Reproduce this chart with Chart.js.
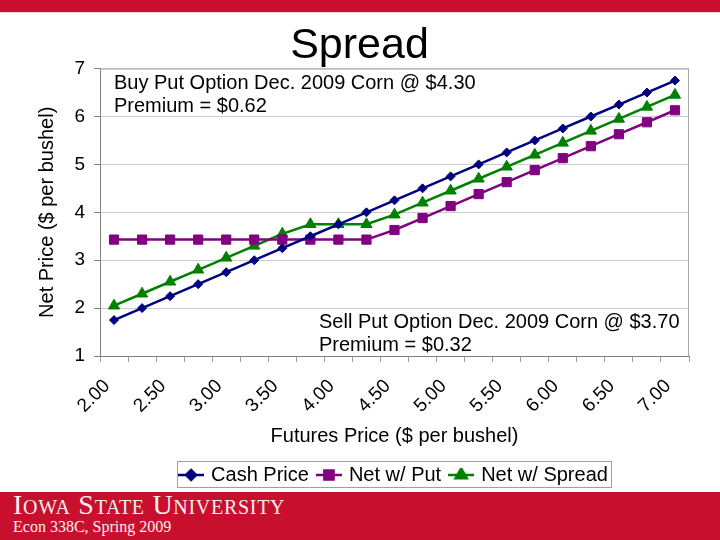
<!DOCTYPE html>
<html>
<head>
<meta charset="utf-8">
<title>Spread</title>
<script src="https://cdn.jsdelivr.net/npm/chart.js@4.4.1/dist/chart.umd.min.js"></script>
<style>
  html, body { margin: 0; padding: 0; background: #fff; }
  #slide { position: relative; width: 720px; height: 540px; overflow: hidden; }
  .top-band { position: absolute; left: 0; top: 0; width: 720px; height: 12px; background: #c8102e; border-bottom: 1px solid #f3d3d7; }
  .foot { position: absolute; left: 0; top: 492px; width: 720px; height: 48px; background: #c8102e; color: #fbeef0; font-family: "Liberation Serif", "DejaVu Serif", serif; }
  .foot .isu { position: absolute; left: 13px; top: -1px; font-size: 28px; line-height: 1; font-variant: small-caps; letter-spacing: 0.7px; white-space: nowrap; }
  .foot .course { position: absolute; left: 13px; top: 27px; font-size: 16px; line-height: 1; white-space: nowrap; }
  #chart { position: absolute; left: 0; top: 0; }
</style>
</head>
<body>
<div id="slide">
  <div class="top-band"></div>
  <div class="foot">
    <div class="isu">Iowa State University</div>
    <div class="course">Econ 338C, Spring 2009</div>
  </div>
  <canvas id="chart" width="720" height="540"></canvas>
</div>
<script>
/* ── Spread chart data ── */

const categories = ['2.00','2.25','2.50','2.75','3.00','3.25','3.50','3.75','4.00','4.25','4.50',
                    '4.75','5.00','5.25','5.50','5.75','6.00','6.25','6.50','6.75','7.00'];
const cashPrice     = [1.75, 2.00, 2.25, 2.50, 2.75, 3.00, 3.25, 3.50, 3.75, 4.00, 4.25,
                       4.50, 4.75, 5.00, 5.25, 5.50, 5.75, 6.00, 6.25, 6.50, 6.75];
const netWithPut    = [3.43, 3.43, 3.43, 3.43, 3.43, 3.43, 3.43, 3.43, 3.43, 3.43, 3.63,
                       3.88, 4.13, 4.38, 4.63, 4.88, 5.13, 5.38, 5.63, 5.88, 6.13];
const netWithSpread = [2.05, 2.30, 2.55, 2.80, 3.05, 3.30, 3.55, 3.75, 3.75, 3.75, 3.95,
                       4.20, 4.45, 4.70, 4.95, 5.20, 5.45, 5.70, 5.95, 6.20, 6.45];
const seriesNames = ['Cash Price', 'Net w/ Put', 'Net w/ Spread'];
const yTicks = [1, 2, 3, 4, 5, 6, 7];

const NAVY = '#000080', PURPLE = '#800080', GREEN = '#008000';
const FONT = '"Liberation Sans", Arial, sans-serif';

Chart.defaults.font.family = FONT;
Chart.defaults.color = '#000';

// little line + marker swatch for the legend, like Excel draws it
function swatch(color, style, radius) {
  const c = document.createElement('canvas');
  c.width = 26; c.height = 14;
  const ctx = c.getContext('2d');
  ctx.strokeStyle = color; ctx.fillStyle = color; ctx.lineWidth = 2.5;
  ctx.beginPath(); ctx.moveTo(0, 7); ctx.lineTo(26, 7); ctx.stroke();
  Chart.helpers.drawPoint(ctx, { pointStyle: style, radius: radius, borderWidth: 1 }, 13, 7);
  ctx.fill();
  return c;
}
const swatches = [swatch(NAVY, 'rectRot', 5), swatch(PURPLE, 'rect', 6.5), swatch(GREEN, 'triangle', 6.5)];

const notes = {
  id: 'notes',
  beforeDatasetsDraw(chart) {
    const { ctx, chartArea: a } = chart;
    ctx.save();
    ctx.strokeStyle = '#a8a8a8'; ctx.lineWidth = 1;
    ctx.beginPath();
    ctx.moveTo(a.left, a.top + 0.5); ctx.lineTo(a.right - 0.5, a.top + 0.5); ctx.lineTo(a.right - 0.5, a.bottom);
    ctx.stroke();
    ctx.restore();
  },
  afterDraw(chart) {
    const { ctx, chartArea: a } = chart;
    ctx.save();
    ctx.font = '20px ' + FONT;
    ctx.fillStyle = '#000';
    ctx.textBaseline = 'alphabetic';
    ctx.fillText('Buy Put Option Dec. 2009 Corn @ $4.30', a.left + 14, a.top + 20);
    ctx.fillText('Premium = $0.62', a.left + 14, a.top + 43);
    ctx.fillText('Sell Put Option Dec. 2009 Corn @ $3.70', a.left + 219, a.bottom - 28);
    ctx.fillText('Premium = $0.32', a.left + 219, a.bottom - 5);
    // legend frame
    const boxes = chart.legend.legendHitBoxes;
    if (boxes && boxes.length) {
      const l = Math.min(...boxes.map(b => b.left)) - 4;
      const r = Math.max(...boxes.map(b => b.left + b.width)) + 3;
      const mid = boxes[0].top + boxes[0].height / 2;
      ctx.strokeStyle = '#a0a0a0';
      ctx.strokeRect(Math.round(l) + 0.5, Math.round(mid - 14) + 0.5, Math.round(r - l), 26);
    }
    ctx.restore();
  },
  afterLayout(chart) {
    // centre the legend under the plot, and the slide title over the slide
    const lg = chart.legend, a = chart.chartArea, t = chart.titleBlock;
    lg.left = a.left; lg.right = a.right; lg.width = a.right - a.left;
    t.left = 30; t.width = a.right - 30; t.right = a.right;
    t.top += 3; t.bottom += 3;
  }
};

new Chart(document.getElementById('chart'), {
  type: 'line',
  data: {
    labels: categories,
    datasets: [
      { label: seriesNames[0], data: cashPrice, borderColor: NAVY, backgroundColor: NAVY,
        pointStyle: 'rectRot', pointRadius: 4.5, borderWidth: 2.5, pointBorderWidth: 1 },
      { label: seriesNames[1], data: netWithPut, borderColor: PURPLE, backgroundColor: PURPLE,
        pointStyle: 'rect', pointRadius: 6.5, borderWidth: 2.5, pointBorderWidth: 1 },
      { label: seriesNames[2], data: netWithSpread, borderColor: GREEN, backgroundColor: GREEN,
        pointStyle: 'triangle', pointRadius: 6.5, borderWidth: 2.5, pointBorderWidth: 1 }
    ]
  },
  options: {
    responsive: false,
    animation: false,
    layout: { padding: { left: 0, right: 31, top: 0, bottom: 45 } },
    plugins: {
      title: {
        display: true, text: 'Spread',
        font: { size: 43, weight: 'normal' }, color: '#000',
        padding: { top: 17, bottom: 0 }
      },
      legend: {
        position: 'bottom',
        labels: {
          usePointStyle: true, pointStyleWidth: 20, padding: 10,
          font: { size: 20 }, color: '#000',
          generateLabels(chart) {
            const items = Chart.defaults.plugins.legend.labels.generateLabels(chart);
            items.forEach((it, i) => { it.pointStyle = swatches[i]; });
            return items;
          }
        }
      },
      tooltip: { enabled: false }
    },
    scales: {
      x: {
        offset: true,
        grid: { offset: true, drawOnChartArea: false, drawTicks: true, tickLength: 6, tickColor: '#a0a0a0' },
        border: { color: '#808080' },
        ticks: {
          autoSkip: false, minRotation: 45, maxRotation: 45, padding: 13, labelOffset: -7,
          font: { size: 19 }, color: '#000',
          callback: (v, i) => (i % 2 ? '' : categories[i])
        },
        title: { display: true, text: 'Futures Price ($ per bushel)', font: { size: 20 }, color: '#000',
                 padding: { top: 4, bottom: 7 } },
        afterFit(scale) { scale.height = 99; }
      },
      y: {
        min: yTicks[0], max: yTicks[yTicks.length - 1],
        grid: { color: '#cccccc', tickColor: '#808080', tickLength: 6 },
        border: { color: '#808080' },
        ticks: { stepSize: 1, padding: 9, font: { size: 19 }, color: '#000' },
        title: { display: true, text: 'Net Price ($ per bushel)', font: { size: 20 }, color: '#000',
                 padding: { top: 35, bottom: 0 } },
        afterFit(scale) { scale.width = 100; }
      }
    }
  },
  plugins: [notes]
});
</script>
</body>
</html>
